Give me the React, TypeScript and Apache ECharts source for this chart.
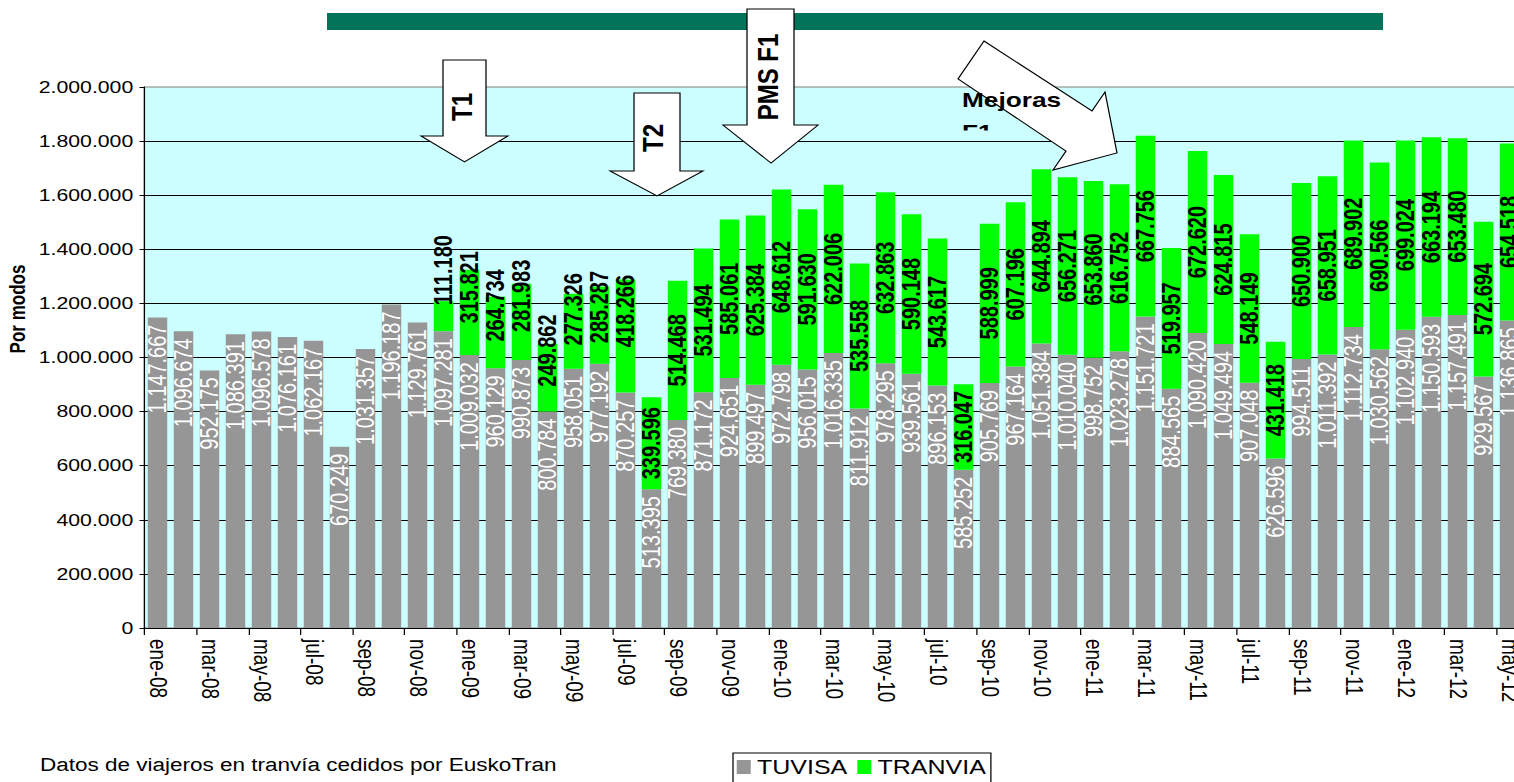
import React, { useEffect, useRef } from 'react';
import * as echarts from 'echarts';

// ---------- data ----------
const categories = [
  'ene-08', 'feb-08', 'mar-08', 'abr-08', 'may-08', 'jun-08', 'jul-08', 'ago-08', 'sep-08', 'oct-08', 'nov-08', 'dic-08',
  'ene-09', 'feb-09', 'mar-09', 'abr-09', 'may-09', 'jun-09', 'jul-09', 'ago-09', 'sep-09', 'oct-09', 'nov-09', 'dic-09',
  'ene-10', 'feb-10', 'mar-10', 'abr-10', 'may-10', 'jun-10', 'jul-10', 'ago-10', 'sep-10', 'oct-10', 'nov-10', 'dic-10',
  'ene-11', 'feb-11', 'mar-11', 'abr-11', 'may-11', 'jun-11', 'jul-11', 'ago-11', 'sep-11', 'oct-11', 'nov-11', 'dic-11',
  'ene-12', 'feb-12', 'mar-12', 'abr-12', 'may-12',
];

const tuvisa = [
  1147667, 1096674, 952175, 1086391, 1096578, 1076161, 1062167, 670249, 1031357, 1196187, 1129761, 1097281,
  1009032, 960129, 990873, 800784, 958051, 977192, 870257, 513395, 769380, 871172, 924651, 899497,
  972798, 956015, 1016335, 811912, 978295, 939561, 896153, 585252, 905769, 967164, 1051384, 1010040,
  998752, 1023278, 1151721, 884565, 1090420, 1049494, 907048, 626596, 994511, 1011392, 1112734, 1030562,
  1102940, 1150593, 1157491, 929567, 1136865,
];

const tranvia: (number | null)[] = [
  null, null, null, null, null, null, null, null, null, null, null, 111180,
  315821, 264734, 281983, 249862, 277326, 285287, 418266, 339596, 514468, 531494, 585061, 625384,
  648612, 591630, 622006, 535558, 632863, 590148, 543617, 316047, 588999, 607196, 644894, 656271,
  653860, 616752, 667756, 519957, 672620, 624815, 548149, 431418, 650900, 658951, 689902, 690566,
  699024, 663194, 653480, 572694, 654518,
];

const seriesNames = ['TUVISA', 'TRANVIA'];
const yMax = 2000000;
const yStep = 200000;
const yAxisTitle = 'Por modos';
const footerText = 'Datos de viajeros en tranvía cedidos por EuskoTran';
const arrowLabels = ['T1', 'T2', 'PMS F1'];
const improvementLabel = ['Mejoras', 'F1'];

// ---------- style helpers ----------
const SX = 1.25; // the reference is stretched horizontally
const X = (pageX: number) => pageX / SX;
const FONT = '"Liberation Sans", Arial, Helvetica, sans-serif';
// manual label lifts (px, along the label) for some tram labels, as in the reference
const labelLift: Record<number, number> = { 11: 46, 12: 25, 13: 27, 14: 26, 15: 27, 16: 22, 17: 18, 18: 25 };

const fmt = (v: number) => String(Math.round(v)).replace(/\B(?=(\d{3})+(?!\d))/g, '.');

const pts = (arr: number[][]) => arr.map(([x, y]) => [X(x), y]);

const arrowStyle = { fill: '#ffffff', stroke: '#000000', lineWidth: 1 };

function buildOption() {
  const tramData = tranvia.map((v, i) =>
    v != null && labelLift[i] ? { value: v, label: { offset: [labelLift[i], 0] } } : v
  );

  return {
    animation: false,
    backgroundColor: '#ffffff',
    grid: {
      left: X(144.5),
      right: 1530 / SX - X(1522.5),
      top: 87,
      bottom: 782 - 628,
      show: true,
      backgroundColor: '#CCFFFF',
      borderColor: '#808080',
      borderWidth: 1,
      containLabel: false,
      outerBoundsMode: 'none',
    },
    legend: {
      data: seriesNames,
      left: X(733),
      top: 753,
      icon: 'rect',
      itemWidth: X(14),
      itemHeight: 14,
      itemGap: X(10),
      padding: [4, 4, 10, 3],
      borderColor: '#000000',
      borderWidth: 1,
      backgroundColor: '#ffffff',
      selectedMode: false,
      textStyle: { fontSize: 20, color: '#000000', fontFamily: FONT },
    },
    xAxis: {
      type: 'category',
      data: categories,
      boundaryGap: true,
      axisLine: { show: true, lineStyle: { color: '#000000', width: 1.2 } },
      axisTick: { show: true, interval: 1, alignWithLabel: false, length: 7, lineStyle: { color: '#000000' } },
      axisLabel: {
        interval: 1,
        rotate: -90,
        margin: 11,
        fontSize: 19,
        color: '#000000',
        fontFamily: FONT,
      },
      splitLine: { show: false },
    },
    yAxis: {
      type: 'value',
      min: 0,
      max: yMax,
      interval: yStep,
      axisLine: { show: true, lineStyle: { color: '#000000', width: 1 } },
      axisTick: { show: true, length: 4, lineStyle: { color: '#000000' } },
      axisLabel: {
        margin: 9,
        fontSize: 17,
        color: '#000000',
        fontFamily: FONT,
        formatter: (v: number) => fmt(v),
      },
      splitLine: { show: true, showMaxLine: false, lineStyle: { color: '#000000', width: 1 } },
    },
    series: [
      {
        name: seriesNames[0],
        type: 'bar',
        stack: 'total',
        data: tuvisa,
        barCategoryGap: '25%',
        silent: true,
        itemStyle: { color: '#969696' },
        label: {
          show: true,
          position: 'insideTop',
          distance: 7,
          rotate: 90,
          align: 'right',
          verticalAlign: 'middle',
          color: '#ffffff',
          fontSize: 20,
          fontFamily: FONT,
          formatter: (p: any) => fmt(p.value),
        },
      },
      {
        name: seriesNames[1],
        type: 'bar',
        stack: 'total',
        data: tramData,
        barCategoryGap: '25%',
        silent: true,
        itemStyle: { color: '#00FF00' },
        label: {
          show: true,
          position: 'inside',
          rotate: 90,
          align: 'center',
          verticalAlign: 'middle',
          color: '#000000',
          fontSize: 20,
          fontWeight: 'bold',
          fontFamily: FONT,
          formatter: (p: any) => (p.value == null ? '' : fmt(p.value)),
        },
      },
    ],
    graphic: [
      // top timeline band
      { type: 'rect', z: 100, shape: { x: X(327), y: 13, width: X(1383) - X(327), height: 17 }, style: { fill: '#03735A' } },
      // T1 arrow
      {
        type: 'polygon', z: 100,
        shape: { points: pts([[443, 60], [486, 60], [486, 136], [508, 136], [464.5, 162], [421, 136], [443, 136]]) },
        style: arrowStyle,
      },
      // T2 arrow
      {
        type: 'polygon', z: 100,
        shape: { points: pts([[634, 93], [680, 93], [680, 171], [703, 171], [657, 196], [610, 171], [634, 171]]) },
        style: arrowStyle,
      },
      // PMS F1 arrow
      {
        type: 'polygon', z: 100,
        shape: { points: pts([[747, 9], [794, 9], [794, 125], [818, 125], [771, 163], [723, 125], [747, 125]]) },
        style: arrowStyle,
      },
      // Mejoras F1 arrow (diagonal)
      {
        type: 'polygon', z: 100,
        shape: { points: pts([[984, 41], [1092, 111], [1105, 92], [1117, 153], [1053, 170], [1066, 151], [958, 79]]) },
        style: arrowStyle,
      },
      // arrow texts
      {
        type: 'text', z: 101, x: X(462), y: 107, rotation: Math.PI / 2,
        style: { text: arrowLabels[0], fontSize: 24, fontWeight: 'bold', fontFamily: FONT, fill: '#000', align: 'center', verticalAlign: 'middle' },
      },
      {
        type: 'text', z: 101, x: X(653), y: 138, rotation: Math.PI / 2,
        style: { text: arrowLabels[1], fontSize: 24, fontWeight: 'bold', fontFamily: FONT, fill: '#000', align: 'center', verticalAlign: 'middle' },
      },
      {
        type: 'text', z: 101, x: X(768), y: 77, rotation: Math.PI / 2,
        style: { text: arrowLabels[2], fontSize: 24, fontWeight: 'bold', fontFamily: FONT, fill: '#000', align: 'center', verticalAlign: 'middle' },
      },
      {
        type: 'text', z: 101, x: X(962), y: 89,
        style: { text: improvementLabel[0], fontSize: 21, fontWeight: 'bold', fontFamily: FONT, fill: '#000', align: 'left', verticalAlign: 'top' },
      },
      {
        type: 'text', z: 101, x: X(962), y: 121,
        style: { text: improvementLabel[1], fontSize: 21, fontWeight: 'bold', fontFamily: FONT, fill: '#000', align: 'left', verticalAlign: 'top' },
      },
      // clip of the second text line (text box is cut in the reference)
      { type: 'rect', z: 102, shape: { x: X(958), y: 130.5, width: X(1000) - X(958), height: 10 }, style: { fill: '#CCFFFF' } },
      // y axis title
      {
        type: 'text', z: 101, x: X(18), y: 309, rotation: Math.PI / 2,
        style: { text: yAxisTitle, fontSize: 17, fontWeight: 'bold', fontFamily: FONT, fill: '#000', align: 'center', verticalAlign: 'middle' },
      },
      // footer
      {
        type: 'text', z: 101, x: X(40), y: 756,
        style: { text: footerText, fontSize: 18, fontFamily: FONT, fill: '#000', align: 'left', verticalAlign: 'top' },
      },
    ],
  };
}

export default function App() {
  const ref = useRef<HTMLDivElement>(null);
  useEffect(() => {
    if (!ref.current) return;
    const chart = echarts.init(ref.current, null, { renderer: 'svg' });
    chart.setOption(buildOption() as any);
    return () => chart.dispose();
  }, []);
  return (
    <div style={{ position: 'fixed', left: 0, top: 0, width: 1514, height: 782, overflow: 'hidden', background: '#ffffff' }}>
      <div
        ref={ref}
        style={{ width: 1530 / SX, height: 782, transform: `scaleX(${SX})`, transformOrigin: '0 0' }}
      />
    </div>
  );
}
